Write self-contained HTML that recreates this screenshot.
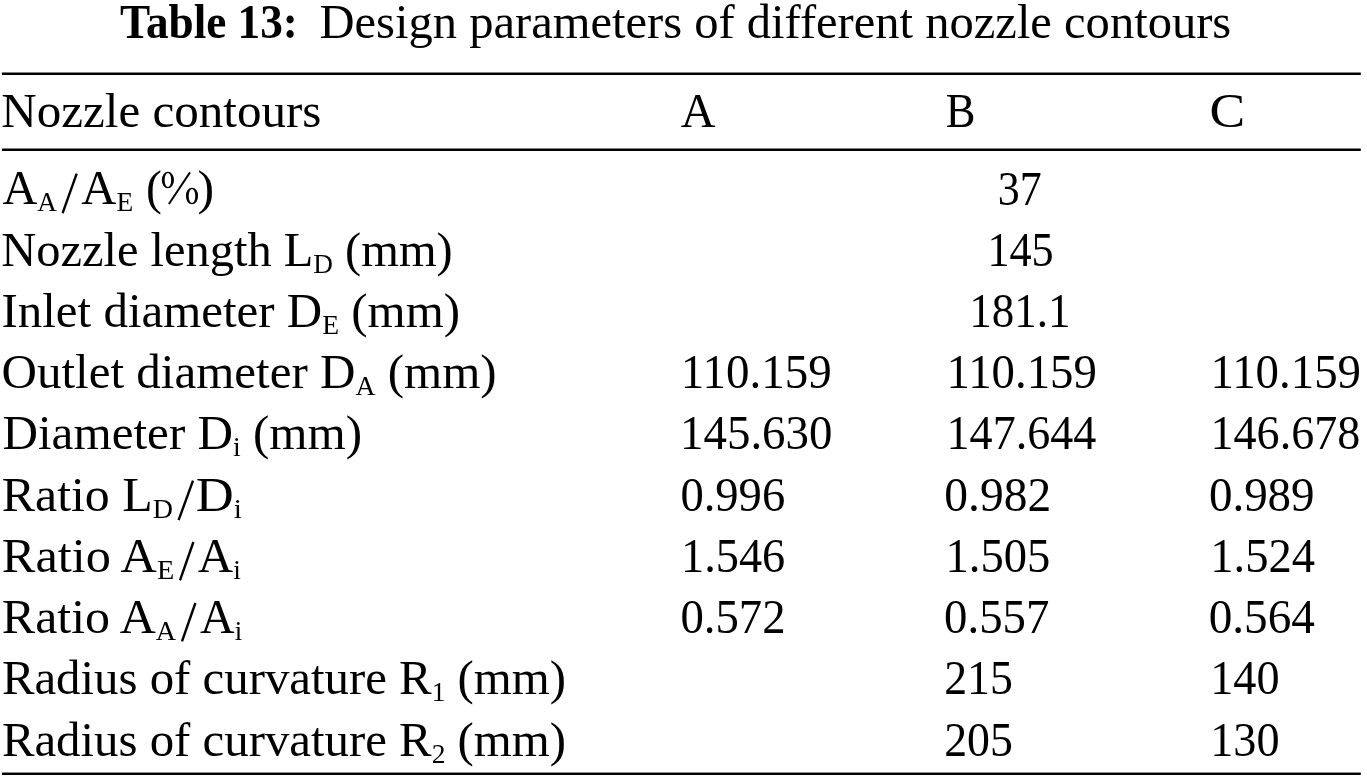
<!DOCTYPE html>
<html><head><meta charset="utf-8"><title>Table 13</title>
<style>
html,body{margin:0;padding:0;background:#fff;width:1367px;height:779px;overflow:hidden}
svg{display:block;will-change:transform}
text{font-family:"Liberation Serif",serif;fill:#000}
</style></head><body>
<svg width="1367" height="779" viewBox="0 0 1367 779">
<rect x="0" y="0" width="1367" height="779" fill="#fff"/>
<rect x="1.9" y="72.5" width="1358.9" height="2.5" fill="#000"/>
<rect x="1.9" y="148.5" width="1358.9" height="2.5" fill="#000"/>
<rect x="1.9" y="772.55" width="1358.9" height="2.45" fill="#000"/>

<text transform="translate(119.96 38.00) scale(0.9418 1)" font-size="48" font-weight="bold" xml:space="preserve">Table 13:</text>
<text transform="translate(319.49 38.00) scale(1.0119 1)" font-size="48" xml:space="preserve">Design parameters of different nozzle contours</text>
<text transform="translate(1.28 127.00) scale(1.0225 1)" font-size="48" xml:space="preserve">Nozzle contours</text>
<text transform="translate(680.70 127.00) scale(1.0000 1)" font-size="48" xml:space="preserve">A</text>
<text transform="translate(945.87 127.00) scale(0.9276 1)" font-size="48" xml:space="preserve">B</text>
<text transform="translate(1209.57 127.00) scale(1.1148 1)" font-size="48" xml:space="preserve">C</text>
<text transform="translate(2.40 204.00) scale(1.0056 1)" font-size="48" xml:space="preserve">A<tspan font-size="27" dy="7">A</tspan><tspan dy="-7">&#8203;</tspan></text>
<text transform="translate(81.30 204.00) scale(1.0140 1)" font-size="48" xml:space="preserve">A<tspan font-size="27" dy="7">E</tspan><tspan dy="-7">&#8203;</tspan></text>
<text transform="translate(146.02 204.00) scale(0.9923 1)" font-size="48" xml:space="preserve">(</text>
<text transform="translate(197.62 204.00) scale(1.0417 1)" font-size="48" xml:space="preserve">)</text>
<text transform="translate(1.29 266.00) scale(1.0092 1)" font-size="48" xml:space="preserve">Nozzle length L<tspan font-size="27" dy="7">D</tspan><tspan dy="-7">&#8203;</tspan> (mm)</text>
<text transform="translate(1.46 327.00) scale(1.0202 1)" font-size="48" xml:space="preserve">Inlet diameter D<tspan font-size="27" dy="7">E</tspan><tspan dy="-7">&#8203;</tspan> (mm)</text>
<text transform="translate(1.46 388.00) scale(1.0220 1)" font-size="48" xml:space="preserve">Outlet diameter D<tspan font-size="27" dy="7">A</tspan><tspan dy="-7">&#8203;</tspan> (mm)</text>
<text transform="translate(2.48 449.00) scale(1.0239 1)" font-size="48" xml:space="preserve">Diameter D<tspan font-size="27" dy="7">i</tspan><tspan dy="-7">&#8203;</tspan> (mm)</text>
<text transform="translate(1.86 511.00) scale(1.0380 1)" font-size="48" xml:space="preserve">Ratio L<tspan font-size="27" dy="7">D</tspan><tspan dy="-7">&#8203;</tspan></text>
<text transform="translate(195.71 511.00) scale(1.0950 1)" font-size="48" xml:space="preserve">D<tspan font-size="27" dy="7">i</tspan><tspan dy="-7">&#8203;</tspan></text>
<text transform="translate(1.85 572.00) scale(1.0481 1)" font-size="48" xml:space="preserve">Ratio A<tspan font-size="27" dy="7">E</tspan><tspan dy="-7">&#8203;</tspan></text>
<text transform="translate(197.80 572.00) scale(1.0195 1)" font-size="48" xml:space="preserve">A<tspan font-size="27" dy="7">i</tspan><tspan dy="-7">&#8203;</tspan></text>
<text transform="translate(1.86 633.00) scale(1.0398 1)" font-size="48" xml:space="preserve">Ratio A<tspan font-size="27" dy="7">A</tspan><tspan dy="-7">&#8203;</tspan></text>
<text transform="translate(200.10 633.00) scale(0.9976 1)" font-size="48" xml:space="preserve">A<tspan font-size="27" dy="7">i</tspan><tspan dy="-7">&#8203;</tspan></text>
<text transform="translate(1.88 694.00) scale(1.0174 1)" font-size="48" xml:space="preserve">Radius of curvature R<tspan font-size="27" dy="7">1</tspan><tspan dy="-7">&#8203;</tspan> (mm)</text>
<text transform="translate(1.88 756.00) scale(1.0174 1)" font-size="48" xml:space="preserve">Radius of curvature R<tspan font-size="27" dy="7">2</tspan><tspan dy="-7">&#8203;</tspan> (mm)</text>
<text transform="translate(997.70 205.00) scale(0.8978 1)" font-size="49" xml:space="preserve">37</text>
<text transform="translate(987.39 266.00) scale(0.9029 1)" font-size="49" xml:space="preserve">145</text>
<text transform="translate(969.23 327.00) scale(0.9184 1)" font-size="49" xml:space="preserve">181.1</text>
<text transform="translate(680.87 388.00) scale(0.9583 1)" font-size="49" xml:space="preserve">110.159</text>
<text transform="translate(946.48 388.00) scale(0.9550 1)" font-size="49" xml:space="preserve">110.159</text>
<text transform="translate(1210.47 388.00) scale(0.9563 1)" font-size="49" xml:space="preserve">110.159</text>
<text transform="translate(680.07 449.00) scale(0.9569 1)" font-size="49" xml:space="preserve">145.630</text>
<text transform="translate(946.54 449.00) scale(0.9409 1)" font-size="49" xml:space="preserve">147.644</text>
<text transform="translate(1210.54 449.00) scale(0.9405 1)" font-size="49" xml:space="preserve">146.678</text>
<text transform="translate(680.40 511.00) scale(0.9505 1)" font-size="49" xml:space="preserve">0.996</text>
<text transform="translate(944.26 511.00) scale(0.9698 1)" font-size="49" xml:space="preserve">0.982</text>
<text transform="translate(1208.88 511.00) scale(0.9594 1)" font-size="49" xml:space="preserve">0.989</text>
<text transform="translate(681.02 572.00) scale(0.9448 1)" font-size="49" xml:space="preserve">1.546</text>
<text transform="translate(945.50 572.00) scale(0.9500 1)" font-size="49" xml:space="preserve">1.505</text>
<text transform="translate(1210.20 572.00) scale(0.9505 1)" font-size="49" xml:space="preserve">1.524</text>
<text transform="translate(680.39 633.00) scale(0.9538 1)" font-size="49" xml:space="preserve">0.572</text>
<text transform="translate(944.09 633.00) scale(0.9542 1)" font-size="49" xml:space="preserve">0.557</text>
<text transform="translate(1208.67 633.00) scale(0.9645 1)" font-size="49" xml:space="preserve">0.564</text>
<text transform="translate(944.13 694.00) scale(0.9357 1)" font-size="49" xml:space="preserve">215</text>
<text transform="translate(1210.22 694.00) scale(0.9441 1)" font-size="49" xml:space="preserve">140</text>
<text transform="translate(944.13 756.00) scale(0.9357 1)" font-size="49" xml:space="preserve">205</text>
<text transform="translate(1210.22 756.00) scale(0.9441 1)" font-size="49" xml:space="preserve">130</text>
<line x1="62.6" y1="213.2" x2="76.7" y2="173.6" stroke="#000" stroke-width="2.4"/>
<line x1="178.6" y1="520.2" x2="193.0" y2="480.6" stroke="#000" stroke-width="2.4"/>
<line x1="180.0" y1="580.4" x2="193.4" y2="542.0" stroke="#000" stroke-width="2.4"/>
<line x1="182.0" y1="641.4" x2="195.4" y2="603.0" stroke="#000" stroke-width="2.4"/>
<path fill="#000" fill-rule="evenodd" d="M161.80 180.05 a6.10 8.30 0 1 0 12.20 0 a6.10 8.30 0 1 0 -12.20 0 Z M164.60 180.05 a3.30 7.00 0 1 0 6.60 0 a3.30 7.00 0 1 0 -6.60 0 Z"/>
<path fill="#000" fill-rule="evenodd" d="M185.90 196.00 a6.10 8.30 0 1 0 12.20 0 a6.10 8.30 0 1 0 -12.20 0 Z M188.70 196.00 a3.30 7.00 0 1 0 6.60 0 a3.30 7.00 0 1 0 -6.60 0 Z"/>
<line x1="168.9" y1="204.0" x2="190.0" y2="172.4" stroke="#000" stroke-width="1.9"/>
</svg>
</body></html>
